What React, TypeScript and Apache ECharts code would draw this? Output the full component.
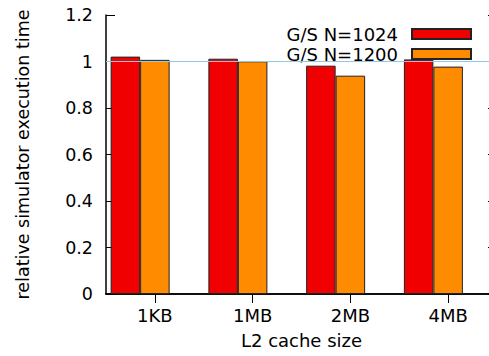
import React, { useEffect, useRef } from "react";
import * as echarts from "echarts";

const categories = ["1KB", "1MB", "2MB", "4MB"];
const seriesNames = ["G/S N=1024", "G/S N=1200"];
const valuesN1024 = [1.021, 1.012, 0.982, 1.009];
const valuesN1200 = [1.007, 1.001, 0.939, 0.978];
const spacerValues = ["-", "-", "-", "-"];
const referenceLevel = 1;
const yMin = 0;
const yMax = 1.2;
const yStep = 0.2;

const FONT = "DejaVu Sans";

export default function App() {
  const ref = useRef<HTMLDivElement>(null);
  useEffect(() => {
    const chart = echarts.init(ref.current!, null, { renderer: "svg" });
    const axisLine = { show: true, lineStyle: { color: "#000", width: 1.5 } };
    const tick = { show: true, inside: true, length: 9, lineStyle: { color: "#000", width: 1 } };
    const barBase = {
      type: "bar" as const,
      barWidth: 29.5,
      barGap: "0%",
      xAxisIndex: 0,
      yAxisIndex: 0,
    };
    chart.setOption({
      animation: false,
      backgroundColor: "#fff",
      textStyle: { fontFamily: FONT },
      grid: { left: 106, top: 15, right: 0, bottom: 62, containLabel: false },
      legend: {
        data: seriesNames,
        orient: "vertical",
        right: 25,
        top: 25,
        padding: 0,
        itemWidth: 59,
        itemHeight: 10,
        itemGap: 2,
        align: "right",
        icon: "rect",
        selectedMode: false,
        textStyle: { fontSize: 18, fontFamily: FONT, color: "#000", padding: [0, 9, 0, 0] },
      },
      xAxis: [
        {
          type: "category",
          data: categories,
          position: "bottom",
          axisLine,
          axisTick: { ...tick, alignWithLabel: true },
          axisLabel: { fontSize: 18, fontFamily: FONT, color: "#000", margin: 12 },
          splitLine: { show: false },
          name: "L2 cache size",
          nameLocation: "middle",
          nameGap: 37,
          nameTextStyle: { fontSize: 18, fontFamily: FONT, color: "#000" },
        },
        {
          type: "category",
          data: categories,
          position: "top",
          axisLine,
          axisTick: { ...tick, alignWithLabel: true },
          axisLabel: { show: false },
          splitLine: { show: false },
        },
      ],
      yAxis: [
        {
          type: "value",
          min: yMin,
          max: yMax,
          interval: yStep,
          position: "left",
          axisLine,
          axisTick: tick,
          axisLabel: { fontSize: 17.5, fontFamily: FONT, color: "#000", margin: 13 },
          splitLine: { show: false },
          name: "relative simulator execution time",
          nameLocation: "middle",
          nameGap: 74,
          nameTextStyle: { fontSize: 17.5, fontFamily: FONT, color: "#000" },
        },
        {
          type: "value",
          min: yMin,
          max: yMax,
          interval: yStep,
          position: "right",
          axisLine,
          axisTick: tick,
          axisLabel: { show: false },
          splitLine: { show: false },
        },
      ],
      series: [
        {
          ...barBase,
          name: seriesNames[0],
          data: valuesN1024,
          itemStyle: { color: "#f00000", borderColor: "#222", borderWidth: 1 },
        },
        {
          ...barBase,
          name: seriesNames[1],
          data: valuesN1200,
          itemStyle: { color: "#ff8c00", borderColor: "#222", borderWidth: 1 },
        },
        {
          ...barBase,
          name: "spacer",
          data: spacerValues,
          itemStyle: { color: "transparent" },
          silent: true,
          markLine: {
            silent: true,
            symbol: ["none", "none"],
            label: { show: false },
            lineStyle: { color: "#8ec9ea", width: 1, type: "solid" },
            data: [{ yAxis: referenceLevel }],
          },
        },
      ],
    });
    return () => chart.dispose();
  }, []);
  return (
    <div
      style={{
        width: 489,
        height: 356,
        position: "absolute",
        left: 0,
        top: 0,
        overflow: "hidden",
      }}
    >
      <div ref={ref} style={{ width: 497, height: 356 }} />
    </div>
  );
}
